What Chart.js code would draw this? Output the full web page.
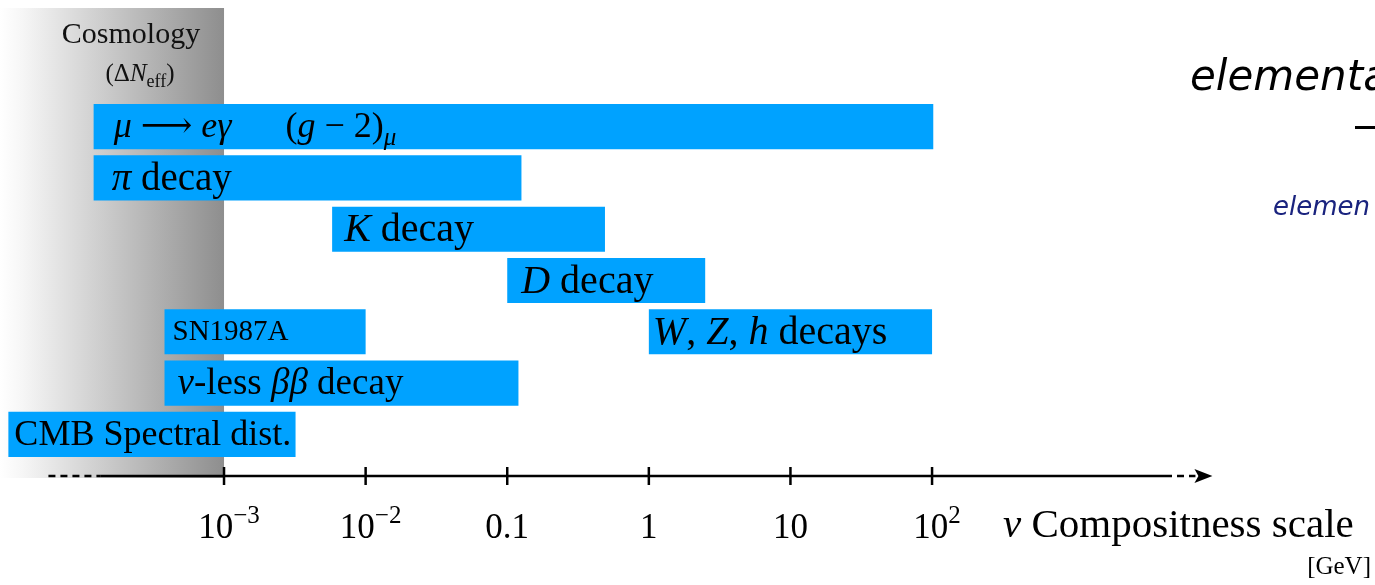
<!DOCTYPE html>
<html><head><meta charset="utf-8">
<script src="https://cdn.jsdelivr.net/npm/chart.js@4/dist/chart.umd.min.js"></script>
<style>html,body{margin:0;padding:0;background:#fff;overflow:hidden}</style>
</head><body>
<canvas id="c" width="1375" height="585"></canvas>
<script>
// rows of the probe chart, top to bottom
const rows = ['mu', 'pi', 'K', 'D', 'SN', 'nbb', 'CMB'];
// reach of each probe in GeV (compositeness scale)
const lowEdge  = [1.2e-4, 1.2e-4, 5.8e-3, 0.1, 3.8e-4, 3.8e-4, 3.0e-5];
const highEdge = [102,    0.126,  0.49,   2.5, 0.01,   0.12,   3.2e-3];
// second bar sharing the SN1987A row
const extraRow = 'SN', extraLow = 1, extraHigh = 100;
// bar texts as [text, style] pieces: '' roman, 'i' italic, 'isub' italic subscript, 'sub' roman subscript
const barLabels = [
  [['μ','i'],[' ⟶ ',''],['eγ','i'],['      (',''],['g','i'],[' − 2)',''],['μ','isub']],
  [['π','i'],[' decay','']],
  [['K','i'],[' decay','']],
  [['D','i'],[' decay','']],
  [['SN1987A','']],
  [['ν','i'],['-less ',''],['ββ','i'],[' decay','']],
  [['CMB Spectral dist.','']]
];
const extraLabel = [['W','i'],[', ',''],['Z','i'],[', ',''],['h','i'],[' decays','']];
// axis
const tickValues = [1e-3, 1e-2, 0.1, 1, 10, 100];
const tickLabels = [['10','−3'], ['10','−2'], ['0.1'], ['1'], ['10'], ['10','2']];
const cosmoEdge = 1e-3;
const axisTitle = [['ν','i'],[' Compositness scale','']];
const axisUnit = '[GeV]';

// styles
const BLUE = '#00a2ff';
const SERIF = '"Liberation Serif","DejaVu Serif",serif';
const labelSize = [36, 39, 40, 40, 29, 37, 36];
const labelPad = [20, 18, 12, 14, 8, 13, 6];

function drawRich(ctx, segs, x, y, size, align){
  const small = s => s==='sub' || s==='isub' || s==='sup';
  const fontOf = s => (s==='i'||s==='isub' ? 'italic ' : '') + Math.round(small(s) ? size*0.7 : size) + 'px ' + SERIF;
  let w = 0;
  segs.forEach(([t,s]) => { ctx.font = fontOf(s); w += ctx.measureText(t).width; });
  let cx = align==='center' ? x - w/2 : (align==='right' ? x - w : x);
  ctx.textAlign = 'left'; ctx.textBaseline = 'alphabetic';
  segs.forEach(([t,s]) => {
    ctx.font = fontOf(s);
    const dy = (s==='sub'||s==='isub') ? size*0.22 : (s==='sup' ? -size*0.42 : 0);
    ctx.fillText(t, cx, y + dy);
    cx += ctx.measureText(t).width;
  });
}

const decor = {
  id: 'decor',
  beforeDatasetsDraw(chart){
    const ctx = chart.ctx, xs = chart.scales.x;
    const xe = xs.getPixelForValue(cosmoEdge);
    ctx.save();
    const g = ctx.createLinearGradient(0, 0, xe, 0);
    g.addColorStop(0, '#ffffff');
    g.addColorStop(0.1, '#f6f6f6');
    g.addColorStop(1, '#8e8e8e');
    ctx.fillStyle = g;
    ctx.fillRect(0, 8, xe, 470);
    ctx.fillStyle = '#111';
    drawRich(ctx, [['Cosmology','']], xe/2 + 19, 43, 30, 'center');
    drawRich(ctx, [['(Δ',''],['N','i'],['eff','sub'],[')','']], xe/2 + 28, 81, 25, 'center');
    ctx.restore();
  },
  afterDatasetsDraw(chart){
    const ctx = chart.ctx, xs = chart.scales.x;
    ctx.save();
    ctx.fillStyle = '#000';
    // bar texts
    const m0 = chart.getDatasetMeta(0);
    m0.data.forEach((el, i) => {
      const p = el.getProps(['x','y','base']);
      const left = Math.min(p.x, p.base);
      drawRich(ctx, barLabels[i], left + labelPad[i], p.y + labelSize[i]*0.3, labelSize[i], 'left');
    });
    const m1 = chart.getDatasetMeta(1);
    const ei = rows.indexOf(extraRow);
    const pe = m1.data[ei].getProps(['x','y','base']);
    drawRich(ctx, extraLabel, Math.min(pe.x, pe.base) + 4, pe.y + 12, 40, 'left');

    // axis
    const ay = 476;
    const px = v => xs.getPixelForValue(v);
    ctx.strokeStyle = '#000'; ctx.lineWidth = 2.5;
    ctx.beginPath(); ctx.moveTo(px(10**-3.87), ay); ctx.lineTo(px(10**3.645), ay); ctx.stroke();
    ctx.setLineDash([7, 5]);
    ctx.beginPath(); ctx.moveTo(px(10**-4.24), ay); ctx.lineTo(px(10**-3.87), ay); ctx.stroke();
    ctx.beginPath(); ctx.moveTo(px(10**3.645), ay); ctx.lineTo(px(10**3.86), ay); ctx.stroke();
    ctx.setLineDash([]);
    const tip = px(10**3.98);
    ctx.beginPath(); ctx.moveTo(tip, ay); ctx.lineTo(tip - 18, ay - 7); ctx.lineTo(tip - 14, ay); ctx.lineTo(tip - 18, ay + 7); ctx.closePath(); ctx.fill();
    tickValues.forEach((v, i) => {
      const x = px(v);
      ctx.beginPath(); ctx.moveTo(x, ay - 9); ctx.lineTo(x, ay + 9); ctx.stroke();
      const lab = tickLabels[i];
      const segs = lab.length > 1 ? [[lab[0],''],[lab[1],'sup']] : [[lab[0],'']];
      drawRich(ctx, segs, x + (lab.length > 1 ? 5 : 0), 538, 35, 'center');
    });
    drawRich(ctx, axisTitle, 1003, 537, 41, 'left');
    drawRich(ctx, [[axisUnit,'']], 1371, 574, 25, 'right');

    // handwritten notes at the slide edge
    ctx.font = 'oblique 42px "DejaVu Sans"';
    ctx.textAlign = 'left'; ctx.textBaseline = 'alphabetic';
    ctx.fillText('elementa', 1190, 90);
    ctx.fillRect(1355, 126, 20, 3);
    ctx.fillStyle = '#1a237e';
    ctx.font = 'oblique 26px "DejaVu Sans"';
    ctx.fillText('elemen', 1273, 215);
    ctx.restore();
  }
};

new Chart(document.getElementById('c'), {
  type: 'bar',
  data: {
    labels: rows,
    datasets: [
      { data: rows.map((r, i) => [lowEdge[i], highEdge[i]]), backgroundColor: BLUE, borderWidth: 0, grouped: false },
      { data: rows.map(r => r === extraRow ? [extraLow, extraHigh] : null), backgroundColor: BLUE, borderWidth: 0, grouped: false }
    ]
  },
  options: {
    indexAxis: 'y',
    responsive: false,
    devicePixelRatio: 1,
    animation: false,
    barPercentage: 0.88,
    categoryPercentage: 1,
    layout: { padding: { top: 101, bottom: 125, left: 0, right: 0 } },
    scales: {
      x: { type: 'logarithmic', min: 10**-4.582, max: 10**5.128, display: false },
      y: { type: 'category', display: false, offset: true }
    },
    plugins: { legend: { display: false }, tooltip: { enabled: false } }
  },
  plugins: [decor]
});
</script>
</body></html>
